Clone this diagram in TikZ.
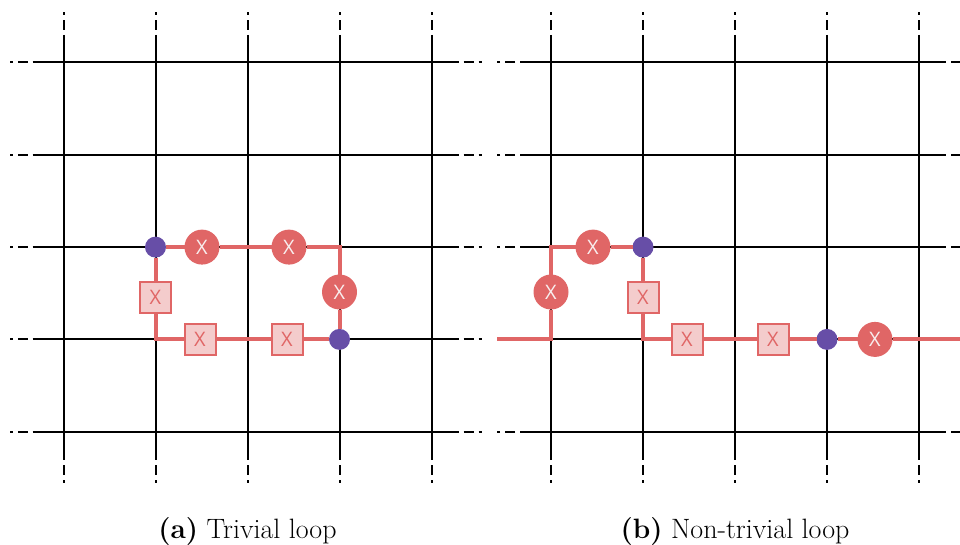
\documentclass[tikz,border=0pt]{standalone}
\usepackage{fontspec}
\newfontfamily\xfont{Open Sans}
\usetikzlibrary{calc}
\definecolor{lred}{HTML}{E06666}
\definecolor{pinkf}{HTML}{F4CCCC}
\definecolor{purp}{HTML}{674EA7}
\definecolor{xwhite}{HTML}{F8EEEE}
\tikzset{
  gridline/.style={black, line width=2pt},
  loopline/.style={lred, line width=4pt},
  xcirc/.style={circle, fill=lred, minimum size=35pt, inner sep=0pt, outer sep=0pt, text=xwhite, font=\xfont\fontsize{20}{20}\selectfont},
  xsq/.style={rectangle, fill=pinkf, draw=lred, line width=2pt, minimum size=31pt, inner sep=0pt, text=lred, font=\xfont\fontsize{20}{20}\selectfont},
  pdot/.style={circle, fill=purp, minimum size=21pt, inner sep=0pt, outer sep=0pt},
  capt/.style={anchor=base, font=\fontsize{28}{32}\selectfont},
}
\newcommand\mytail[4]{%
  \draw[gridline] ({#1+5*#3},{#2+5*#4}) -- ({#1+15*#3},{#2+15*#4});
  \draw[gridline] ({#1+20*#3},{#2+20*#4}) -- ({#1+23*#3},{#2+23*#4});
}
\newcommand\mygrid[1]{%
  \foreach \i in {0,...,4}{
    \pgfmathsetmacro\xx{#1+92*\i}
    \draw[gridline] (\xx,35) -- (\xx,460);
    \mytail{\xx}{35}{0}{-1}
    \mytail{\xx}{460}{0}{1}
  }
  \foreach \j in {0,...,4}{
    \pgfmathsetmacro\yy{62.5+92.3*\j}
    \pgfmathsetmacro\xl{#1-31}
    \pgfmathsetmacro\xr{#1+368+27}
    \draw[gridline] (\xl,\yy) -- (\xr,\yy);
    \mytail{\xl}{\yy}{-1}{0}
    \mytail{\xr}{\yy}{1}{0}
  }
}
\begin{document}
\begin{tikzpicture}[x=1pt,y=-1pt]
\useasboundingbox (0,0) rectangle (960,545);
\begin{scope}
\clip (0,0) rectangle (960,545);
\mygrid{63.5}
\mygrid{551}

% (a) trivial loop
\node[pdot] (a1) at (155.5,247.1) {};
\node[pdot] (a2) at (339.5,339.4) {};
\node[xcirc] (ac1) at (202,247.1) {X};
\node[xcirc] (ac2) at (289,247.1) {X};
\node[xcirc] (ac3) at (339.5,292) {X};
\node[xsq] (as1) at (155.5,297) {X};
\node[xsq] (as2) at (200,339.4) {X};
\node[xsq] (as3) at (287,339.4) {X};
\coordinate (acor1) at (339.5,247.1);
\coordinate (acor2) at (155.5,339.4);
\draw[loopline] (a1) -- (ac1) -- (ac2) -- (acor1) -- (ac3) -- (a2);
\draw[loopline] (a1) -- (as1) -- (acor2) -- (as2) -- (as3) -- (a2);

% (b) non-trivial loop
\node[pdot] (bp1) at (643,247.1) {};
\node[pdot] (bp2) at (827,339.4) {};
\node[xcirc] (bc1) at (551,292) {X};
\node[xcirc] (bc2) at (593,247.1) {X};
\node[xcirc] (bc3) at (875,339.4) {X};
\node[xsq] (bs1) at (643,297) {X};
\node[xsq] (bs2) at (687,339.4) {X};
\node[xsq] (bs3) at (773,339.4) {X};
\coordinate (bstart) at (497,339.4);
\coordinate (bcor1) at (551,339.4);
\coordinate (bcor2) at (551,247.1);
\coordinate (bcor3) at (643,339.4);
\coordinate (bend) at (962,339.4);
\draw[loopline] (bstart) -- (bcor1) -- (bc1) -- (bcor2) -- (bc2) -- (bp1) -- (bs1) -- (bcor3) -- (bs2) -- (bs3) -- (bp2) -- (bc3) -- (bend);
\end{scope}

\node[capt] (capa) at (247.5,538) {\textbf{(a)} Trivial loop};
\node[capt] (capb) at (735,538) {\textbf{(b)} Non-trivial loop};
\end{tikzpicture}
\end{document}
